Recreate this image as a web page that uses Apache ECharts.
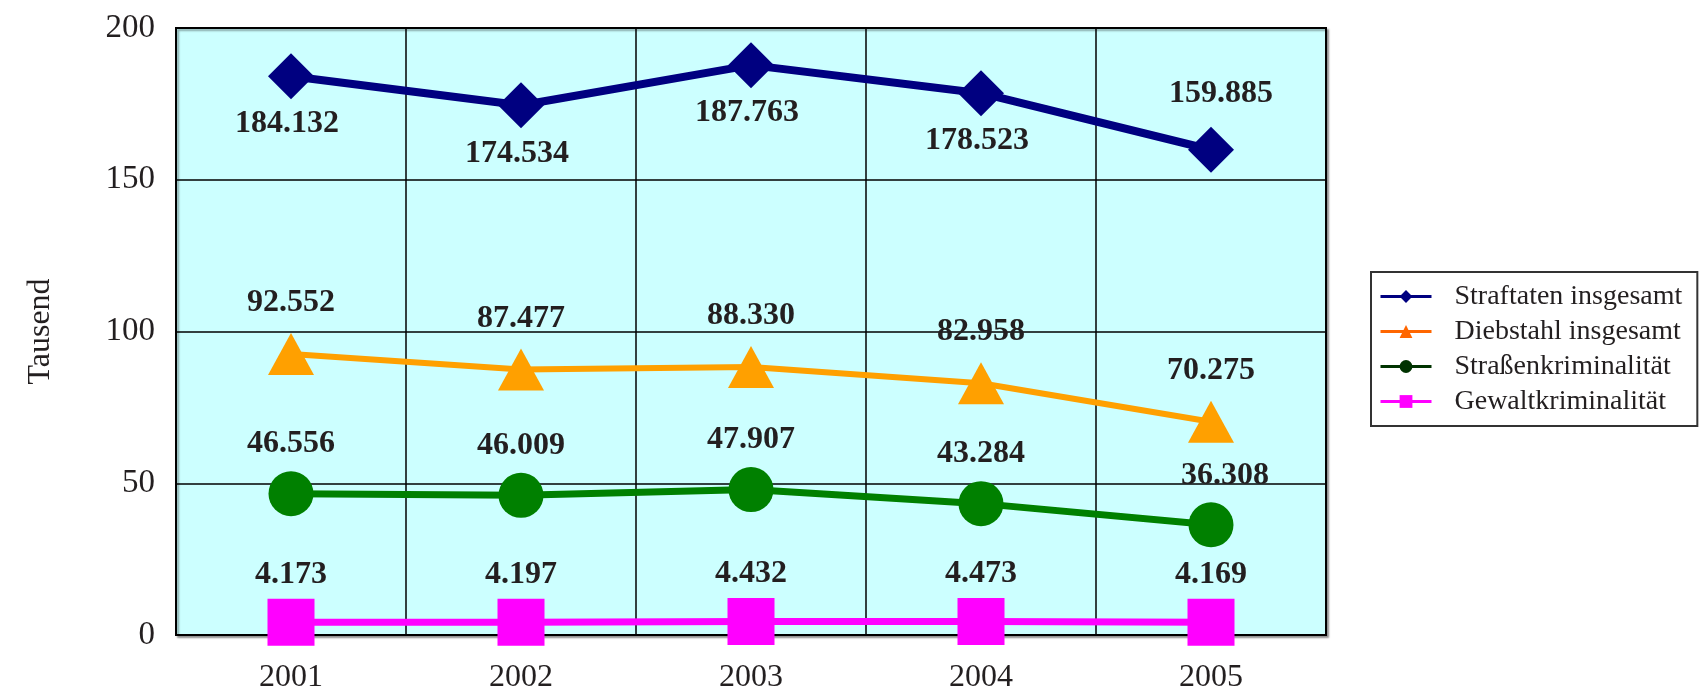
<!DOCTYPE html>
<html>
<head>
<meta charset="utf-8">
<script src="https://cdn.jsdelivr.net/npm/echarts@6/dist/echarts.min.js"></script>
<style>
html, body { margin: 0; padding: 0; background: #fff; }
#container { width: 1700px; height: 695px; }
</style>
</head>
<body>
<div id="container"></div>
<script>
var years = ['2001', '2002', '2003', '2004', '2005'];
var straftaten = [184.132, 174.534, 187.763, 178.523, 159.885];
var diebstahl = [92.552, 87.477, 88.330, 82.958, 70.275];
var strassen = [46.556, 46.009, 47.907, 43.284, 36.308];
var gewalt = [4.173, 4.197, 4.432, 4.473, 4.169];
// where the navy labels sit, per year
var straftatenLabelPos = ['bottom', 'bottom', 'bottom', 'bottom', 'top'];

var dom = document.getElementById('container');
var myChart = echarts.init(dom);
var serif = '"Liberation Serif", "DejaVu Serif", serif';

function fmt(p) { return p.value.toFixed(3); }

var labelBase = {
    show: true,
    formatter: fmt,
    fontFamily: serif,
    fontWeight: 'bold',
    fontSize: 32,
    color: '#231F20'
};

var option = {
    backgroundColor: '#fff',
    animation: false,
    grid: {
        left: 176, right: 374, top: 28, bottom: 60,
        show: true,
        backgroundColor: '#CCFFFF',
        borderColor: '#000',
        borderWidth: 2,
        shadowColor: 'rgba(0,0,0,0.35)',
        shadowOffsetX: 2,
        shadowOffsetY: 2,
        shadowBlur: 2
    },
    legend: {
        orient: 'vertical',
        left: 1371, top: 272,
        padding: [10, 15, 10, 8],
        borderColor: '#333',
        borderWidth: 2,
        itemWidth: 51,
        itemHeight: 16,
        itemGap: 6,
        textStyle: { fontFamily: serif, fontSize: 28, color: '#231F20', lineHeight: 29, padding: [0, 0, 0, 18] },
        data: [
            { name: 'Straftaten insgesamt', itemStyle: { color: '#000080' }, lineStyle: { color: '#000080', width: 3 } },
            { name: 'Diebstahl insgesamt', itemStyle: { color: '#FF6600' }, lineStyle: { color: '#FF6600', width: 3 } },
            { name: 'Straßenkriminalität', itemStyle: { color: '#003300' }, lineStyle: { color: '#003300', width: 3 } },
            { name: 'Gewaltkriminalität', itemStyle: { color: '#FF00FF' }, lineStyle: { color: '#FF00FF', width: 3 } }
        ]
    },
    xAxis: {
        type: 'category',
        data: years,
        boundaryGap: true,
        axisLine: { show: false },
        axisTick: { show: false },
        axisLabel: { fontFamily: serif, fontSize: 32, color: '#231F20', margin: 27 },
        splitLine: { show: true, lineStyle: { color: '#000', width: 1.5 } }
    },
    yAxis: {
        type: 'value',
        min: 0, max: 200, interval: 50,
        name: 'Tausend',
        nameLocation: 'middle',
        nameRotate: 90,
        nameGap: 119,
        nameTextStyle: { fontFamily: serif, fontSize: 32, color: '#231F20' },
        axisLine: { show: false },
        axisTick: { show: false },
        axisLabel: { fontFamily: serif, fontSize: 33, color: '#231F20', margin: 21 },
        splitLine: { show: true, lineStyle: { color: '#000', width: 1.5 } }
    },
    series: [
        {
            name: 'Straftaten insgesamt',
            type: 'line',
            data: straftaten.map(function (v, i) {
                var top = straftatenLabelPos[i] === 'top';
                return { value: v, label: { position: straftatenLabelPos[i], distance: top ? 17 : 9, offset: top ? [10, 0] : [-4, 0] } };
            }),
            symbol: 'diamond',
            symbolSize: 46,
            lineStyle: { color: '#000080', width: 8 },
            itemStyle: { color: '#000080' },
            label: labelBase
        },
        {
            name: 'Diebstahl insgesamt',
            type: 'line',
            data: diebstahl,
            symbol: 'triangle',
            symbolSize: [46, 42],
            lineStyle: { color: '#FFA000', width: 6 },
            itemStyle: { color: '#FFA000' },
            label: Object.assign({}, labelBase, { position: 'top', distance: 14 })
        },
        {
            name: 'Straßenkriminalität',
            type: 'line',
            data: strassen.map(function (v, i) {
                return i === 4 ? { value: v, label: { offset: [14, 0] } } : v;
            }),
            symbol: 'circle',
            symbolSize: 45,
            lineStyle: { color: '#008000', width: 7 },
            itemStyle: { color: '#008000' },
            label: Object.assign({}, labelBase, { position: 'top', distance: 11 })
        },
        {
            name: 'Gewaltkriminalität',
            type: 'line',
            data: gewalt,
            symbol: 'rect',
            symbolSize: 47,
            lineStyle: { color: '#FF00FF', width: 7 },
            itemStyle: { color: '#FF00FF' },
            label: Object.assign({}, labelBase, { position: 'top', distance: 8 })
        }
    ]
};

myChart.setOption(option);
</script>
</body>
</html>
